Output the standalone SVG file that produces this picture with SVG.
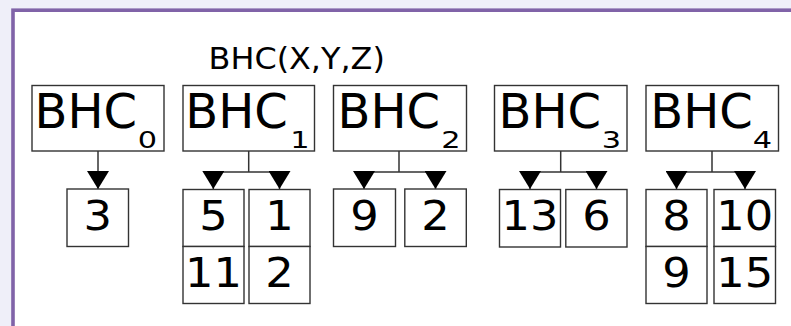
<svg xmlns="http://www.w3.org/2000/svg" width="791" height="326" viewBox="0 0 791 326">
<defs>
<style>
.box{fill:#fff;stroke:#333;stroke-width:1.4}
.big{font-family:"DejaVu Sans",sans-serif;font-size:48px;fill:#000}
.sub{font-family:"DejaVu Sans",sans-serif;font-size:22.5px;fill:#000;text-anchor:middle}
.num{font-family:"DejaVu Sans",sans-serif;font-size:40px;fill:#000;text-anchor:middle}
.lbl{font-family:"DejaVu Sans",sans-serif;font-size:29.5px;fill:#000}
.ln{fill:none;stroke:#333;stroke-width:1.5}
.arr{fill:none;stroke:#333;stroke-width:1.5;marker-end:url(#tri)}
</style>
<marker id="tri" markerUnits="userSpaceOnUse" markerWidth="18" markerHeight="22" refX="18" refY="11" orient="auto" viewBox="0 0 18 22">
<path d="M0,0 L18,11 L0,22 z" fill="#000"/>
</marker>
</defs>
<rect x="0" y="0" width="791" height="326" fill="#efeff9"/>
<rect x="13" y="10.2" width="800" height="340" fill="#fff" stroke="#8063a8" stroke-width="3.6"/>
<text id="title" class="lbl" transform="translate(208.6,69) scale(1.08,1)">BHC(X,Y,Z)</text>

<g id="connectors">
<path class="arr" d="M98,151 V189"/>
<path class="ln" d="M248.7,151 V172 M213.3,172 H279.5"/>
<path class="arr" d="M213.3,171 V189"/>
<path class="arr" d="M279.5,171 V189"/>
<path class="ln" d="M399,151 V172 M364,172 H435.5"/>
<path class="arr" d="M364,171 V189"/>
<path class="arr" d="M435.5,171 V189"/>
<path class="ln" d="M560.7,151 V172 M530,172 H596.5"/>
<path class="arr" d="M530,171 V189"/>
<path class="arr" d="M596.5,171 V189"/>
<path class="ln" d="M712,151 V172 M676.5,172 H745"/>
<path class="arr" d="M676.5,171 V189"/>
<path class="arr" d="M745,171 V189"/>
</g>

<g id="bhc0"><rect class="box" x="32" y="85.5" width="132" height="65.5"/><text class="big" x="34.6" y="128.3">BHC</text><text class="sub" transform="translate(147.5,148) scale(1.35,1)">0</text></g>
<g id="bhc1"><rect class="box" x="183" y="85.5" width="131.5" height="65.5"/><text class="big" x="185.3" y="128.3">BHC</text><text class="sub" transform="translate(300,148) scale(1.35,1)">1</text></g>
<g id="bhc2"><rect class="box" x="333.5" y="85.5" width="133" height="65.5"/><text class="big" x="337.6" y="128.3">BHC</text><text class="sub" transform="translate(450.8,148) scale(1.35,1)">2</text></g>
<g id="bhc3"><rect class="box" x="494.5" y="85.5" width="132.5" height="65.5"/><text class="big" x="498.6" y="128.3">BHC</text><text class="sub" transform="translate(611.3,148) scale(1.35,1)">3</text></g>
<g id="bhc4"><rect class="box" x="646" y="85.5" width="132.5" height="65.5"/><text class="big" x="650.3" y="128.3">BHC</text><text class="sub" transform="translate(762.5,148) scale(1.35,1)">4</text></g>

<g id="n3"><rect class="box" x="67" y="189" width="61.5" height="57.5"/><text class="num" transform="translate(97.7,229.8) scale(1.12,1)">3</text></g>

<g id="n5"><rect class="box" x="183" y="189.5" width="61" height="57"/><text class="num" transform="translate(213.5,229.8) scale(1.12,1)">5</text></g>
<g id="n1"><rect class="box" x="249" y="189.5" width="61" height="57"/><text class="num" transform="translate(279.5,229.8) scale(1.12,1)">1</text></g>
<g id="n11"><rect class="box" x="183" y="246.5" width="61" height="57"/><text class="num" transform="translate(213.5,286.5) scale(1.12,1)">11</text></g>
<g id="n2a"><rect class="box" x="249" y="246.5" width="61" height="57"/><text class="num" transform="translate(279.5,286.5) scale(1.12,1)">2</text></g>

<g id="n9a"><rect class="box" x="333.5" y="189" width="62" height="57.5"/><text class="num" transform="translate(364.5,229.8) scale(1.12,1)">9</text></g>
<g id="n2b"><rect class="box" x="404.8" y="189" width="61.5" height="57.5"/><text class="num" transform="translate(435.5,229.8) scale(1.12,1)">2</text></g>

<g id="n13"><rect class="box" x="499.5" y="189.5" width="61" height="57.5"/><text class="num" transform="translate(530,229.8) scale(1.12,1)">13</text></g>
<g id="n6"><rect class="box" x="565.8" y="189.5" width="61.2" height="57.5"/><text class="num" transform="translate(596.4,229.8) scale(1.12,1)">6</text></g>

<g id="n8"><rect class="box" x="646" y="189.5" width="61" height="57"/><text class="num" transform="translate(676.5,229.8) scale(1.12,1)">8</text></g>
<g id="n10"><rect class="box" x="714" y="189.5" width="61.5" height="57"/><text class="num" transform="translate(744.7,229.8) scale(1.12,1)">10</text></g>
<g id="n9b"><rect class="box" x="646" y="246.5" width="61" height="57"/><text class="num" transform="translate(676.5,286.5) scale(1.12,1)">9</text></g>
<g id="n15"><rect class="box" x="714" y="246.5" width="61.5" height="57"/><text class="num" transform="translate(744.7,286.5) scale(1.12,1)">15</text></g>
</svg>
